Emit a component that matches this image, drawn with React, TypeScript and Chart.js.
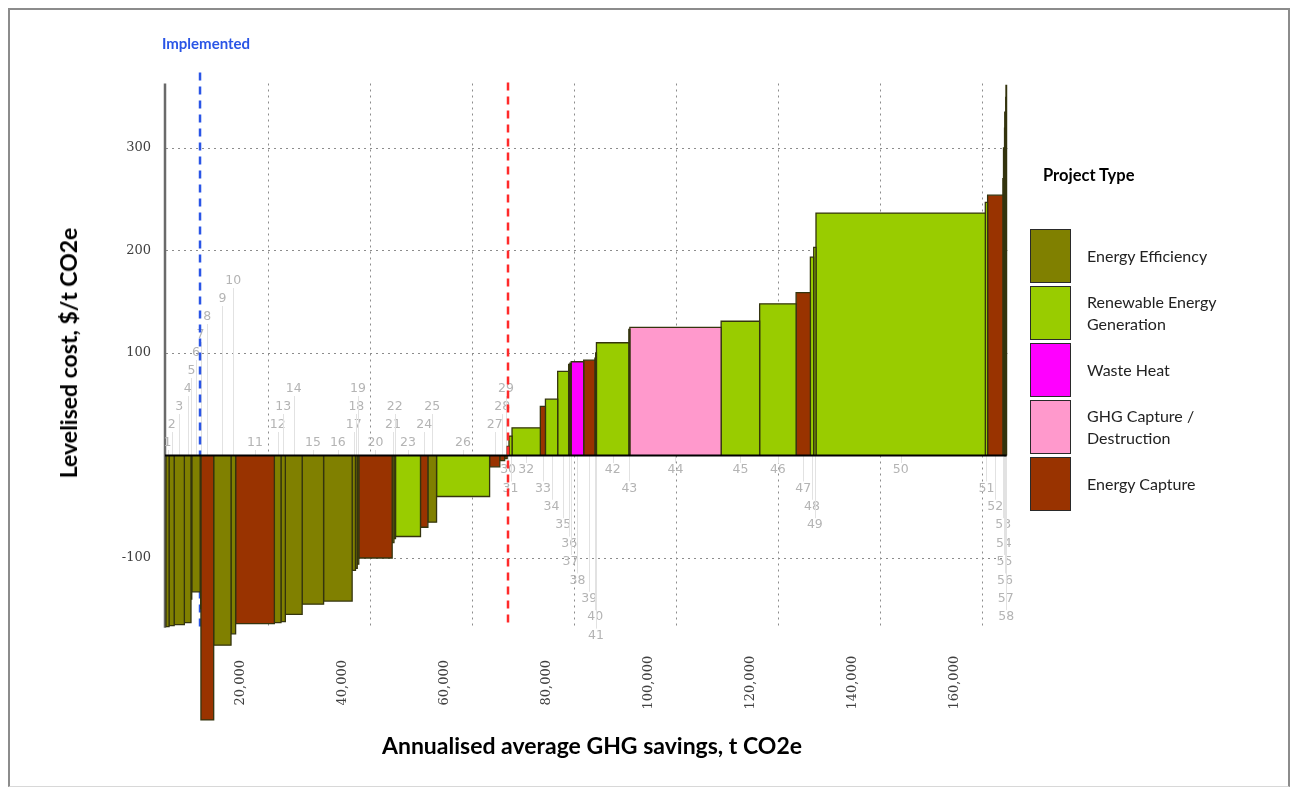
import React, { useEffect, useRef } from 'react';
import { Chart, registerables } from 'chart.js';

Chart.register(...registerables);

// ---------- data ----------
const projectIds = [
  1, 2, 3, 4, 5, 6, 7, 8, 9, 10, 11, 12, 13, 14, 15, 16, 17, 18, 19, 20,
  21, 22, 23, 24, 25, 26, 27, 28, 29, 30, 31, 32, 33, 34, 35, 36, 37, 38, 39, 40,
  41, 42, 43, 44, 45, 46, 47, 48, 49, 50, 51, 52, 53, 54, 55, 56, 57, 58,
];

// annualised average GHG savings of each project, t CO2e (bar widths)
const savings = [
  600, 1000, 2000, 1300, 150, 1650, 150, 2500, 3400, 900,
  7600, 1300, 850, 3300, 4200, 5600, 650, 350, 300, 6550,
  350, 300, 4900, 1450, 1700, 10400, 2000, 950, 500, 350,
  600, 5550, 1000, 2400, 2150, 250, 250, 2450, 2200, 150,
  150, 6350, 200, 17900, 7550, 7150, 2800, 650, 450, 33200,
  450, 3000, 120, 120, 120, 120, 120, 120,
];

// levelised cost, $/t CO2e (bar heights)
const costs = [
  -167, -166, -165, -163, -140, -133, -150, -258, -185, -174,
  -164, -163, -162, -155, -145, -142, -112, -110, -106, -100,
  -85, -81, -79, -70, -65, -40, -11, -5, -3, 9,
  19, 27, 48, 55, 82, 89, 90, 91.5, 93, 95,
  100, 110, 123, 125, 131, 148, 159, 193.5, 203, 236.5,
  247, 254, 270, 300, 320, 335, 350, 361,
];

// 0 Energy Efficiency, 1 Renewable Energy Generation, 2 Waste Heat, 3 GHG Capture / Destruction, 4 Energy Capture
const projectTypes = [
  0, 0, 0, 0, 0, 0, 0, 4, 0, 0,
  4, 0, 0, 0, 0, 0, 0, 0, 0, 4,
  0, 0, 1, 4, 0, 1, 4, 4, 4, 1,
  1, 1, 4, 1, 1, 1, 1, 2, 4, 1,
  1, 1, 1, 3, 1, 1, 4, 1, 1, 1,
  1, 4, 4, 4, 4, 4, 4, 4,
];

// stacking row of each project number label
const labelRows = [
  0, 1, 2, 3, 4, 5, 6, 7, 8, 9,
  0, 1, 2, 3, 0, 0, 1, 2, 3, 0,
  1, 2, 0, 1, 2, 0, 1, 2, 3, 0,
  1, 0, 1, 2, 3, 4, 5, 6, 7, 8,
  9, 0, 1, 0, 0, 0, 1, 2, 3, 0,
  1, 2, 3, 4, 5, 6, 7, 8,
];

const typeNames = [
  'Energy Efficiency',
  'Renewable Energy Generation',
  'Waste Heat',
  'GHG Capture / Destruction',
  'Energy Capture',
];
const typeColors = ['#808000', '#99cc00', '#ff00ff', '#ff99cc', '#993300'];

const xTickValues = [20000, 40000, 60000, 80000, 100000, 120000, 140000, 160000];
const yTickValues = [-100, 100, 200, 300];

const implementedSavings = 6670;
const targetSavings = 67060;

const xMax = 165000;
const yMin = -260;
const yMax = 361;
const plotFloor = -168;

const legendTitle = 'Project Type';
const xTitle = 'Annualised average GHG savings, t CO2e';
const yTitle = 'Levelised cost, $/t CO2e';
const implementedLabel = 'Implemented';

// ---------- derived ----------
const starts: number[] = [];
{
  let acc = 0;
  savings.forEach((w) => {
    starts.push(acc);
    acc += w;
  });
}

const overlayPlugin = {
  id: 'maccOverlay',
  beforeDatasetsDraw(chart: any) {
    const { ctx, chartArea, scales } = chart;
    const x = scales.x;
    const y = scales.y;
    const zeroY = y.getPixelForValue(0);
    const floorY = y.getPixelForValue(plotFloor);
    ctx.save();

    // vertical dotted gridlines
    ctx.strokeStyle = '#8c8c8c';
    ctx.lineWidth = 1;
    ctx.setLineDash([2, 4]);
    xTickValues.forEach((v) => {
      const px = Math.round(x.getPixelForValue(v)) + 0.5;
      ctx.beginPath();
      ctx.moveTo(px, chartArea.top - 2);
      ctx.lineTo(px, floorY);
      ctx.stroke();
    });

    // y axis line
    ctx.setLineDash([]);
    ctx.strokeStyle = '#6a6a6a';
    ctx.lineWidth = 2.5;
    ctx.beginPath();
    ctx.moveTo(chartArea.left - 1, chartArea.top - 2);
    ctx.lineTo(chartArea.left - 1, floorY);
    ctx.stroke();

    // leader lines and project labels
    ctx.font = '12.5px "DejaVu Sans"';
    ctx.textAlign = 'center';
    ctx.textBaseline = 'middle';
    projectIds.forEach((id, i) => {
      const cx = x.getPixelForValue(starts[i] + savings[i] / 2);
      const row = labelRows[i];
      const above = costs[i] < 0;
      const ly = above ? zeroY - 12.5 - row * 18 : zeroY + 14.5 + row * 18.4;
      ctx.strokeStyle = '#e2e2e2';
      ctx.lineWidth = 1;
      ctx.beginPath();
      const lx = Math.round(cx) + 0.5;
      if (above) {
        ctx.moveTo(lx, ly + 7);
        ctx.lineTo(lx, zeroY);
      } else {
        ctx.moveTo(lx, zeroY);
        ctx.lineTo(lx, ly - 7);
      }
      ctx.stroke();
      ctx.fillStyle = '#b4b4b4';
      ctx.fillText(String(id), cx, ly);
    });

    // implemented line (blue dashed)
    const bx = x.getPixelForValue(implementedSavings);
    ctx.strokeStyle = '#2a55e6';
    ctx.lineWidth = 2.5;
    ctx.setLineDash([8, 6]);
    ctx.beginPath();
    ctx.moveTo(bx, chartArea.top - 13);
    ctx.lineTo(bx, floorY);
    ctx.stroke();
    ctx.restore();
  },
  afterDatasetsDraw(chart: any) {
    const { ctx, chartArea, scales } = chart;
    const x = scales.x;
    const y = scales.y;
    const zeroY = y.getPixelForValue(0);
    const floorY = y.getPixelForValue(plotFloor);
    ctx.save();

    // zero line
    ctx.strokeStyle = '#000';
    ctx.lineWidth = 2;
    ctx.beginPath();
    ctx.moveTo(chartArea.left - 1, zeroY);
    ctx.lineTo(x.getPixelForValue(starts[starts.length - 1] + savings[savings.length - 1]), zeroY);
    ctx.stroke();

    // target line (red dashed)
    const rx = x.getPixelForValue(targetSavings);
    ctx.strokeStyle = '#ff2a2a';
    ctx.lineWidth = 2.5;
    ctx.setLineDash([8, 6]);
    ctx.beginPath();
    ctx.moveTo(rx, chartArea.top - 3);
    ctx.lineTo(rx, floorY);
    ctx.stroke();
    ctx.setLineDash([]);

    // x tick labels (rotated)
    ctx.fillStyle = '#404040';
    ctx.font = '13px "DejaVu Serif"';
    ctx.textAlign = 'center';
    ctx.textBaseline = 'middle';
    xTickValues.forEach((v) => {
      const px = x.getPixelForValue(v) - 27;
      ctx.save();
      ctx.translate(px, floorY + 55);
      ctx.rotate(-Math.PI / 2);
      ctx.fillText(v.toLocaleString('en-US'), 0, 0);
      ctx.restore();
    });

    // "Implemented" label
    const bx = x.getPixelForValue(implementedSavings);
    ctx.fillStyle = '#2a55e6';
    ctx.font = 'bold 15px Lato';
    ctx.fillText(implementedLabel, bx + 6, 44);
    ctx.restore();
  },
};

export default function App() {
  const canvasRef = useRef<HTMLCanvasElement | null>(null);

  useEffect(() => {
    if (!canvasRef.current) return;
    const datasets = savings.map((w, i) => ({
      label: `Project ${projectIds[i]}`,
      data: [
        { x: starts[i], y: 0 },
        { x: starts[i], y: costs[i] },
        { x: starts[i] + w, y: costs[i] },
        { x: starts[i] + w, y: 0 },
      ],
      backgroundColor: typeColors[projectTypes[i]],
      borderColor: '#34340e',
      borderWidth: 1.3,
      borderJoinStyle: 'miter' as const,
      fill: 'origin',
      pointRadius: 0,
      pointHoverRadius: 0,
      tension: 0,
      clip: false as const,
    }));

    const chart = new Chart(canvasRef.current, {
      type: 'line',
      data: { datasets },
      options: {
        responsive: false,
        animation: false,
        events: [],
        layout: { padding: { left: 116, top: 85.5, right: 288.5, bottom: 65 } },
        plugins: {
          legend: { display: false },
          tooltip: { enabled: false },
        },
        scales: {
          x: {
            type: 'linear',
            min: 0,
            max: xMax,
            grid: { display: false },
            border: { display: false },
            ticks: { display: false },
            afterFit: (s: any) => {
              s.height = 0;
            },
          },
          y: {
            type: 'linear',
            min: yMin,
            max: yMax,
            afterFit: (s: any) => {
              s.width = 50;
            },
            afterBuildTicks: (s: any) => {
              s.ticks = yTickValues.map((v) => ({ value: v }));
            },
            grid: { color: '#8c8c8c', lineWidth: 1, drawTicks: false },
            border: { display: false, dash: [2, 4] },
            ticks: {
              padding: 15,
              color: '#404040',
              font: { family: '"DejaVu Serif"', size: 13 },
            },
          },
        },
      },
      plugins: [overlayPlugin],
    } as any);

    return () => chart.destroy();
  }, []);

  return (
    <div
      style={{
        position: 'absolute',
        left: 0,
        top: 0,
        width: 1296,
        height: 787,
        overflow: 'hidden',
        background: '#fff',
      }}
    >
      <div
        style={{
          position: 'absolute',
          left: 8,
          top: 8,
          width: 1282,
          height: 779,
          boxSizing: 'border-box',
          border: '2px solid #8c8c8c',
          borderBottomColor: '#d8d8d8',
          borderBottomWidth: 1,
        }}
      />
      <canvas
        ref={canvasRef}
        width={1296}
        height={787}
        style={{ position: 'absolute', left: 0, top: 0, width: 1296, height: 787 }}
      />
      <div
        style={{
          position: 'absolute',
          left: 68,
          top: 353,
          transform: 'translate(-50%, -50%) rotate(-90deg)',
          whiteSpace: 'nowrap',
          font: 'bold 23px Lato',
          color: '#000',
        }}
      >
        {yTitle}
      </div>
      <div
        style={{
          position: 'absolute',
          left: 592,
          top: 745,
          transform: 'translate(-50%, -50%)',
          whiteSpace: 'nowrap',
          font: 'bold 23px Lato',
          color: '#000',
        }}
      >
        {xTitle}
      </div>
      <div
        style={{
          position: 'absolute',
          left: 1043,
          top: 165,
          whiteSpace: 'nowrap',
          font: 'bold 16.5px Lato',
          color: '#000',
        }}
      >
        {legendTitle}
      </div>
      {typeNames.map((name, i) => (
        <div
          key={name}
          style={{
            position: 'absolute',
            left: 1030,
            top: 229 + i * 57,
            height: 54,
            display: 'flex',
            alignItems: 'center',
          }}
        >
          <div
            style={{
              width: 41,
              height: 54,
              boxSizing: 'border-box',
              border: '1.5px solid #2a2a2a',
              background: typeColors[i],
              flex: '0 0 auto',
            }}
          />
          <div
            style={{
              marginLeft: 16,
              width: 165,
              font: '16px Lato',
              lineHeight: '22px',
              color: '#222',
            }}
          >
            {name}
          </div>
        </div>
      ))}
    </div>
  );
}
